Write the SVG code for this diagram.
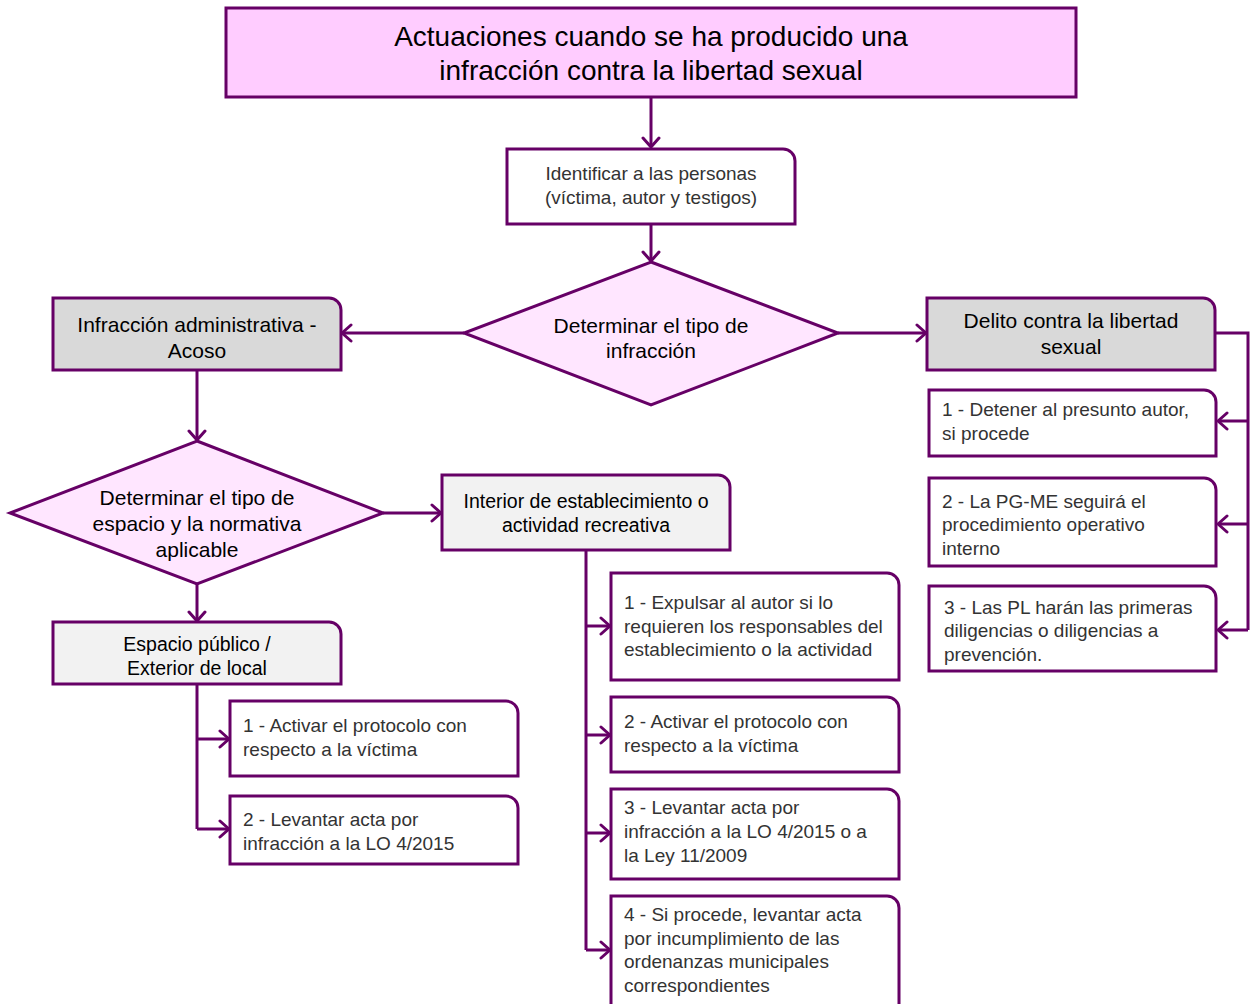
<svg xmlns="http://www.w3.org/2000/svg" width="1250" height="1004" viewBox="0 0 1250 1004">
<defs>
<style>
.box{stroke:#660066;stroke-width:3;fill:#ffffff}
.title{fill:#ffccff}
.dia{fill:#ffe6ff}
.g1{fill:#d9d9d9}
.g2{fill:#f2f2f2}
.conn{stroke:#660066;stroke-width:3;fill:none}
text{font-family:"Liberation Sans",Arial,sans-serif}
.tt{font-size:28px;fill:#000;text-anchor:middle}
.hd{font-size:21px;fill:#000;text-anchor:middle}
.hs{font-size:19.5px;fill:#000;text-anchor:middle}
.bd{font-size:19px;fill:#333333}
.bc{font-size:19px;fill:#333333;text-anchor:middle}
</style>
<marker id="arr" markerUnits="userSpaceOnUse" markerWidth="14" markerHeight="20" refX="11" refY="10" orient="auto">
<path d="M2,2 L11,10 L2,18" fill="none" stroke="#660066" stroke-width="3" stroke-linecap="round" stroke-linejoin="round"/>
</marker>
</defs>
<rect width="1250" height="1004" fill="#ffffff"/>
<g id="connectors">
<line class="conn" x1="651" y1="97" x2="651" y2="147" marker-end="url(#arr)"/>
<line class="conn" x1="651" y1="224" x2="651" y2="261" marker-end="url(#arr)"/>
<line class="conn" x1="464" y1="333" x2="342" y2="333" marker-end="url(#arr)"/>
<line class="conn" x1="838" y1="333" x2="926" y2="333" marker-end="url(#arr)"/>
<path class="conn" d="M1215,333 H1248 V630"/>
<line class="conn" x1="1248" y1="421" x2="1218" y2="421" marker-end="url(#arr)"/>
<line class="conn" x1="1248" y1="524" x2="1218" y2="524" marker-end="url(#arr)"/>
<line class="conn" x1="1248" y1="630" x2="1218" y2="630" marker-end="url(#arr)"/>
<line class="conn" x1="197" y1="370" x2="197" y2="440" marker-end="url(#arr)"/>
<line class="conn" x1="383" y1="513" x2="441" y2="513" marker-end="url(#arr)"/>
<line class="conn" x1="197" y1="584" x2="197" y2="621" marker-end="url(#arr)"/>
<path class="conn" d="M197,684 V829"/>
<line class="conn" x1="197" y1="739" x2="229" y2="739" marker-end="url(#arr)"/>
<line class="conn" x1="197" y1="829" x2="229" y2="829" marker-end="url(#arr)"/>
<path class="conn" d="M586,550 V950"/>
<line class="conn" x1="586" y1="626" x2="610" y2="626" marker-end="url(#arr)"/>
<line class="conn" x1="586" y1="735" x2="610" y2="735" marker-end="url(#arr)"/>
<line class="conn" x1="586" y1="833" x2="610" y2="833" marker-end="url(#arr)"/>
<line class="conn" x1="586" y1="950" x2="610" y2="950" marker-end="url(#arr)"/>
</g>
<g id="n-title">
<rect class="box title" x="226" y="8" width="850" height="89"/>
<text class="tt" x="651" y="46">Actuaciones cuando se ha producido una</text>
<text class="tt" x="651" y="80">infracción contra la libertad sexual</text>
</g>
<g id="n-identificar">
<path class="box" d="M507,149 H783 A12,12 0 0 1 795,161 V224 H507 Z"/>
<text class="bc" x="651" y="180">Identificar a las personas</text>
<text class="bc" x="651" y="204">(víctima, autor y testigos)</text>
</g>
<g id="n-tipo-infraccion">
<polygon class="box dia" points="651,262 838,333 651,405 464,333"/>
<text class="hd" x="651" y="333">Determinar el tipo de</text>
<text class="hd" x="651" y="358">infracción</text>
</g>
<g id="n-infraccion-admin">
<path class="box g1" d="M53,298 H329 A12,12 0 0 1 341,310 V370 H53 Z"/>
<text class="hd" x="197" y="332">Infracción administrativa -</text>
<text class="hd" x="197" y="358">Acoso</text>
</g>
<g id="n-delito">
<path class="box g1" d="M927,298 H1203 A12,12 0 0 1 1215,310 V370 H927 Z"/>
<text class="hd" x="1071" y="328">Delito contra la libertad</text>
<text class="hd" x="1071" y="354">sexual</text>
</g>
<g id="n-d1">
<path class="box" d="M929,390 H1204 A12,12 0 0 1 1216,402 V456 H929 Z"/>
<text class="bd" x="942" y="416">1 - Detener al presunto autor,</text>
<text class="bd" x="942" y="440">si procede</text>
</g>
<g id="n-d2">
<path class="box" d="M929,478 H1204 A12,12 0 0 1 1216,490 V566 H929 Z"/>
<text class="bd" x="942" y="508">2 - La PG-ME seguirá el</text>
<text class="bd" x="942" y="531">procedimiento operativo</text>
<text class="bd" x="942" y="555">interno</text>
</g>
<g id="n-d3">
<path class="box" d="M929,586 H1204 A12,12 0 0 1 1216,598 V671 H929 Z"/>
<text class="bd" x="944" y="614">3 - Las PL harán las primeras</text>
<text class="bd" x="944" y="637">diligencias o diligencias a</text>
<text class="bd" x="944" y="661">prevención.</text>
</g>
<g id="n-tipo-espacio">
<polygon class="box dia" points="197,441 383,513 197,584 10,513"/>
<text class="hd" x="197" y="505">Determinar el tipo de</text>
<text class="hd" x="197" y="531">espacio y la normativa</text>
<text class="hd" x="197" y="557">aplicable</text>
</g>
<g id="n-interior">
<path class="box g2" d="M442,475 H718 A12,12 0 0 1 730,487 V550 H442 Z"/>
<text class="hs" x="586" y="508">Interior de establecimiento o</text>
<text class="hs" x="586" y="532">actividad recreativa</text>
</g>
<g id="n-espacio">
<path class="box g2" d="M53,622 H329 A12,12 0 0 1 341,634 V684 H53 Z"/>
<text class="hs" x="197" y="651">Espacio público /</text>
<text class="hs" x="197" y="675">Exterior de local</text>
</g>
<g id="n-l1">
<path class="box" d="M230,701 H506 A12,12 0 0 1 518,713 V776 H230 Z"/>
<text class="bd" x="243" y="732">1 - Activar el protocolo con</text>
<text class="bd" x="243" y="756">respecto a la víctima</text>
</g>
<g id="n-l2">
<path class="box" d="M230,796 H506 A12,12 0 0 1 518,808 V864 H230 Z"/>
<text class="bd" x="243" y="826">2 - Levantar acta por</text>
<text class="bd" x="243" y="850">infracción a la LO 4/2015</text>
</g>
<g id="n-m1">
<path class="box" d="M611,573 H887 A12,12 0 0 1 899,585 V680 H611 Z"/>
<text class="bd" x="624" y="609">1 - Expulsar al autor si lo</text>
<text class="bd" x="624" y="633">requieren los responsables del</text>
<text class="bd" x="624" y="656">establecimiento o la actividad</text>
</g>
<g id="n-m2">
<path class="box" d="M611,697 H887 A12,12 0 0 1 899,709 V772 H611 Z"/>
<text class="bd" x="624" y="728">2 - Activar el protocolo con</text>
<text class="bd" x="624" y="752">respecto a la víctima</text>
</g>
<g id="n-m3">
<path class="box" d="M611,789 H887 A12,12 0 0 1 899,801 V879 H611 Z"/>
<text class="bd" x="624" y="814">3 - Levantar acta por</text>
<text class="bd" x="624" y="838">infracción a la LO 4/2015 o a</text>
<text class="bd" x="624" y="862">la Ley 11/2009</text>
</g>
<g id="n-m4">
<path class="box" d="M611,896 H887 A12,12 0 0 1 899,908 V1010 H611 Z"/>
<text class="bd" x="624" y="921">4 - Si procede, levantar acta</text>
<text class="bd" x="624" y="945">por incumplimiento de las</text>
<text class="bd" x="624" y="968">ordenanzas municipales</text>
<text class="bd" x="624" y="992">correspondientes</text>
</g>
</svg>
